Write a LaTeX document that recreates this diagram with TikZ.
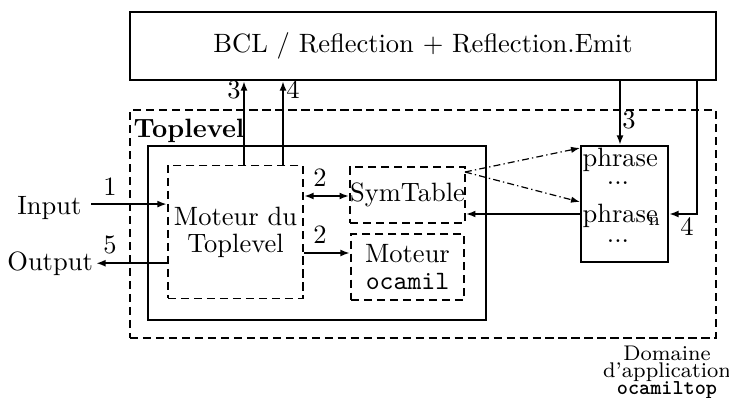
\documentclass[tikz,border=0pt]{standalone}
\usetikzlibrary{arrows.meta}
\begin{document}
\begin{tikzpicture}[x=0.3774pt,y=-0.3774pt,
  every node/.style={font=\fontsize{10}{10.2}\selectfont},
  box/.style={draw, line width=0.75pt, inner sep=0pt},
  dbox/.style={box, dash pattern=on 3.1pt off 1.8pt},
  tip/.tip={Latex[length=3.6pt,width=2.6pt]},
  arr/.style={line width=0.75pt, -tip},
  darr/.style={line width=0.75pt, tip-tip},
  dotarr/.style={line width=0.45pt, dash pattern=on 2.6pt off 1.2pt on 0.5pt off 1.2pt, -{Latex[length=3.4pt,width=2.4pt]}},
  lbl/.style={inner sep=0pt},
  txt/.style={inner sep=0pt}]
\useasboundingbox (0,0) rectangle (729,398);

% boxes
\node[box, minimum width=221.16pt, minimum height=25.66pt] (bcl) at (423,46) {BCL / Reflection + Reflection.Emit};
\node[dbox, minimum width=221.16pt, minimum height=86.05pt] (dom) at (423,224) {};
\node[box, minimum width=127.56pt, minimum height=65.67pt] (top) at (317,233) {};
\node[dbox, minimum width=50.95pt, minimum height=50.19pt, align=center] (mot) at (235.5,232) {Moteur du\\Toplevel};
\node[dbox, minimum width=42.65pt, minimum height=21.13pt] (sym) at (407.5,195) {SymTable};
\node[dbox, minimum width=42.65pt, minimum height=24.91pt, align=center] (oca) at (407.5,267) {Moteur\\\texttt{ocamil}};
\node[box, minimum width=32.83pt, minimum height=43.78pt] (phr) at (624.5,204) {};

% texts
\node[txt, anchor=base west, font=\fontsize{10}{10.2}\selectfont\bfseries] (toplbl) at (133,138) {Toplevel};
\node[txt, anchor=base west] (p1) at (582,167) {phrase};
\node[txt, anchor=base] (d1) at (618,185) {...};
\node[txt, anchor=base west] (p2) at (582,222) {phrase\kern-3.6pt$_{\mathrm{n}}$};
\node[txt, anchor=base] (d2) at (618,242) {...};
\node[inner sep=0pt, inner xsep=3.4pt, anchor=base east] (inp) at (91,214) {Input};
\node[inner sep=0pt, inner xsep=1pt, anchor=base east] (out) at (96,270) {Output};
\node[inner sep=0pt, align=center, anchor=north, font=\fontsize{8}{6.5}\selectfont] (domlbl) at (667,345) {Domaine\\d'application\\\texttt{\bfseries ocamiltop}};

% helper coordinates
\coordinate (xa) at (244,0);
\coordinate (xb) at (283,0);
\coordinate (xc) at (620,0);
\coordinate (xd) at (697,0);
\coordinate (ya) at (0,196);
\coordinate (yb) at (0,253);
\coordinate (yc) at (0,214);
\coordinate (yd) at (0,148);
\coordinate (ye) at (0,202);
\coordinate (sstart) at (465,172);

% connectors
\draw[arr] (xa |- mot.north) -- (xa |- bcl.south);
\draw[arr] (xb |- mot.north) -- (xb |- bcl.south);
\draw[arr] (xc |- bcl.south) -- (xc |- phr.north);
\draw[arr] (xd |- bcl.south) -- (xd |- yc) -- (phr.east |- yc);
\draw[arr] (phr.west |- yc) -- (sym.east |- yc);
\draw[darr] (mot.east |- ya) -- (sym.west |- ya);
\draw[arr] (mot.east |- yb) -- (oca.west |- yb);
\draw[arr] ([yshift=1.3pt]inp.east) -- ([yshift=1.3pt]inp.east -| mot.west);
\draw[arr] (out.east -| mot.west) -- (out.east);
\draw[dotarr] (sstart) -- (phr.west |- yd);
\draw[dotarr] (sstart) -- (phr.west |- ye);

% connector labels
\node[lbl] (l3a) at (234,90) {3};
\node[lbl] (l4a) at (293,90) {4};
\node[lbl] (l3b) at (629,120) {3};
\node[lbl] (l4b) at (687,227) {4};
\node[lbl] (l2a) at (320,178) {2};
\node[lbl] (l2b) at (320,235) {2};
\node[lbl] (l1) at (110,187) {1};
\node[lbl] (l5) at (110,245) {5};
\end{tikzpicture}
\end{document}
